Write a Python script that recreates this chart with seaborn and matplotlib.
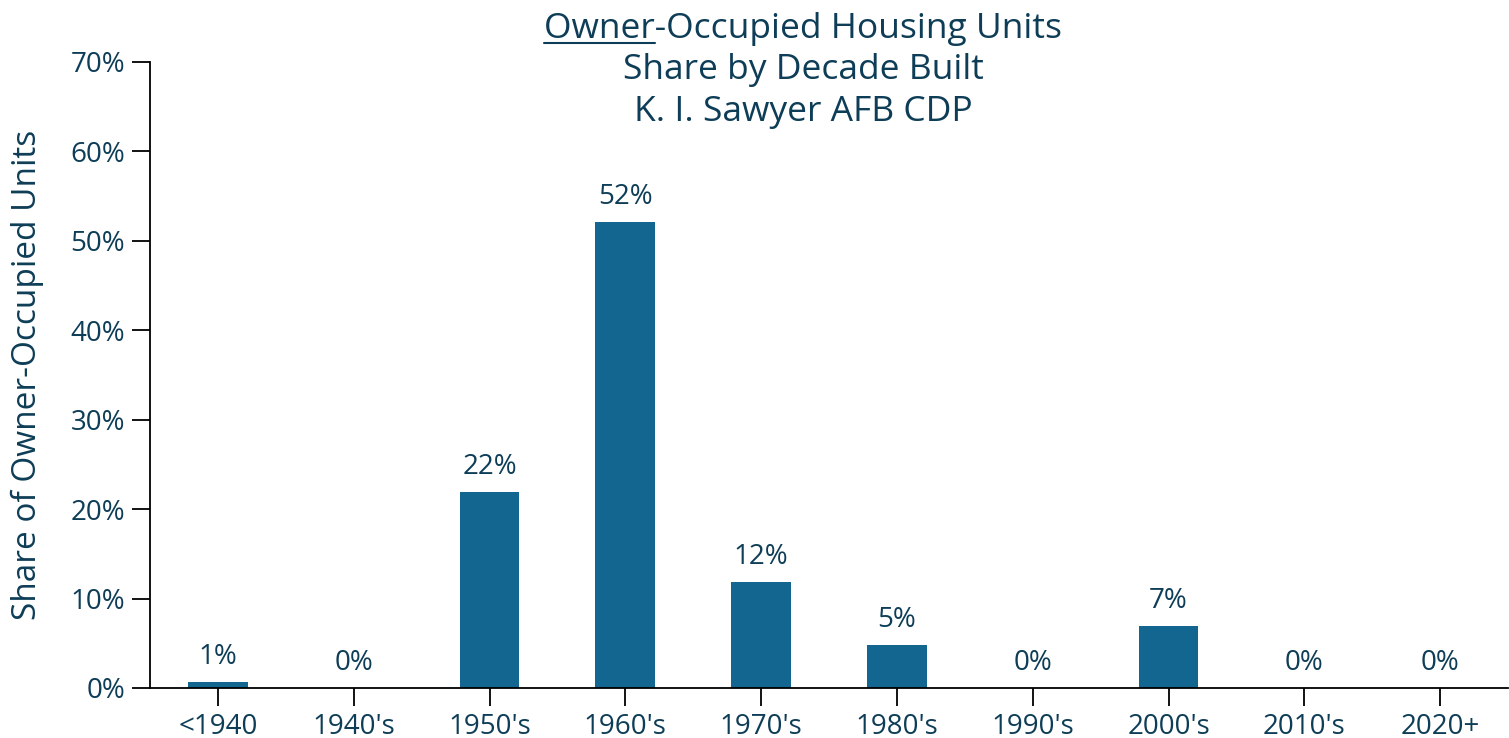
import matplotlib
matplotlib.use("Agg")
import matplotlib.pyplot as plt
from matplotlib.lines import Line2D
import seaborn as sns
import pandas as pd

# Data
decades = ["<1940", "1940's", "1950's", "1960's", "1970's",
           "1980's", "1990's", "2000's", "2010's", "2020+"]
share = [0.7, 0.0, 21.9, 52.1, 11.8, 4.8, 0.0, 6.9, 0.0, 0.0]
labels = ["1%", "0%", "22%", "52%", "12%", "5%", "0%", "7%", "0%", "0%"]
yticks = [0, 10, 20, 30, 40, 50, 60, 70]

text_color = "#0e3d57"
bar_color = "#126690"

sns.set_style("ticks")
plt.rcParams["font.family"] = ["Open Sans", "DejaVu Sans"]

df = pd.DataFrame({"decade": decades, "share": share})

W, H = 1509, 738
fig = plt.figure(figsize=(W / 100, H / 100), dpi=100)
ax = fig.add_axes([150 / W, 1 - 688 / H, 1358 / W, 626 / H])

sns.barplot(data=df, x="decade", y="share", color=bar_color,
            width=0.44, saturation=1, linewidth=0, ax=ax)

ax.bar_label(ax.containers[0], labels=labels, padding=8,
             fontsize=20, color=text_color)

ax.set_ylim(0, 70)
ax.set_xlim(-0.5, 9.5)
ax.set_yticks(yticks)
ax.set_yticklabels([f"{t}%" for t in yticks])
ax.set_xlabel("")
ax.set_ylabel("")

ax.tick_params(axis="both", length=13, width=1.3, colors="black",
               labelsize=20, labelcolor=text_color, pad=5)

sns.despine(ax=ax)
for side in ["left", "bottom"]:
    ax.spines[side].set_linewidth(1.3)
    ax.spines[side].set_color("black")

fig.text(27 / W, 1 - 375 / H, "Share of Owner-Occupied Units",
         rotation=90, ha="center", va="center", fontsize=24,
         color=text_color)

# title, three lines, first word underlined
cx = 803 / W
t1 = fig.text(cx, 1 - 38 / H, "Owner-Occupied Housing Units",
              ha="center", va="baseline", fontsize=25.5, color=text_color)
fig.text(cx, 1 - 70 / H, "Share by Decade Built",
         ha="center", va="center", fontsize=25.5, color=text_color)
fig.text(cx, 1 - 112 / H, "K. I. Sawyer AFB CDP",
         ha="center", va="center", fontsize=25.5, color=text_color)

renderer = fig.canvas.get_renderer()
bb = t1.get_window_extent(renderer)
tmp = fig.text(0, 0, "Owner", fontsize=25.5)
w_owner = tmp.get_window_extent(renderer).width
tmp.remove()
y_line = (H - 38 - 5) / H
fig.add_artist(Line2D([bb.x0 / W, (bb.x0 + w_owner) / W], [y_line, y_line],
                      transform=fig.transFigure, color=text_color, lw=1.5))

fig.savefig("out.png", dpi=100)
